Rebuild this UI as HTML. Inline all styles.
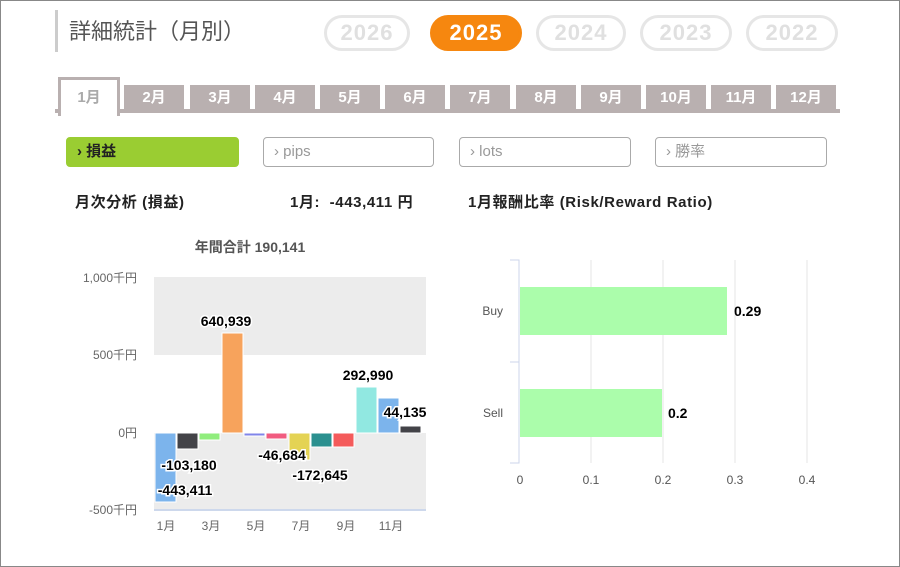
<!DOCTYPE html>
<html><head><meta charset="utf-8"><style>
body{margin:0;width:900px;height:567px;background:#fff;font-family:"Liberation Sans","Noto Sans CJK JP",sans-serif;position:relative;overflow:hidden}
.a{position:absolute}
.frame{left:0;top:0;width:898px;height:565px;border:1px solid #888}
.pill{top:15px;height:30px;border:3px solid #e6e6e6;border-radius:18px;color:#e0e0e0;font-weight:bold;font-size:22px;letter-spacing:1px;text-align:center;line-height:30px}
.tab{top:85px;height:25px;background:#b9b0b0;color:#fff;font-size:15px;font-weight:bold;text-align:center;line-height:26px;width:60px}
.btn{top:137px;border:1px solid #aaa;border-radius:4px;color:#999;font-size:15px;line-height:28px;padding-left:10px;box-sizing:border-box;height:30px}
.b{font-weight:bold;font-size:15px;color:#222;letter-spacing:0.6px}
</style></head><body>
<div class="a frame"></div>
<div class="a" style="left:55px;top:10px;width:3px;height:42px;background:#ccc"></div>
<div class="a" style="left:69px;top:14px;font-size:22px;color:#555">詳細統計（月別）</div>
<div class="a pill" style="left:324px;width:80px">2026</div>
<div class="a pill" style="left:430px;width:86px;background:#f6870f;border-color:#f6870f;color:#fff">2025</div>
<div class="a pill" style="left:536px;width:84px">2024</div>
<div class="a pill" style="left:640px;width:86px">2023</div>
<div class="a pill" style="left:746px;width:86px">2022</div>
<div class="a" style="left:55px;top:109px;width:785px;height:4px;background:#b9b0b0"></div>
<div class="a" style="left:58px;top:77px;width:56px;height:36px;background:#fff;border:3px solid #b9b0b0;border-bottom:none;color:#aaa;font-size:15px;font-weight:bold;text-align:center;line-height:36px">1月</div>
<div class="a tab" style="left:124px">2月</div>
<div class="a tab" style="left:190px">3月</div>
<div class="a tab" style="left:255px">4月</div>
<div class="a tab" style="left:320px">5月</div>
<div class="a tab" style="left:385px">6月</div>
<div class="a tab" style="left:450px">7月</div>
<div class="a tab" style="left:516px">8月</div>
<div class="a tab" style="left:581px">9月</div>
<div class="a tab" style="left:646px">10月</div>
<div class="a tab" style="left:711px">11月</div>
<div class="a tab" style="left:776px">12月</div>
<div class="a btn" style="left:66px;width:173px;background:#9acd32;border-color:#9acd32;color:#222;font-weight:bold">›&nbsp;損益</div>
<div class="a btn" style="left:263px;width:171px">›&nbsp;pips</div>
<div class="a btn" style="left:459px;width:172px">›&nbsp;lots</div>
<div class="a btn" style="left:655px;width:172px">›&nbsp;勝率</div>
<div class="a b" style="left:75px;top:191px">月次分析 (損益)</div>
<div class="a b" style="left:290px;top:191px">1月:&nbsp; -443,411 円</div>
<div class="a b" style="left:468px;top:191px">1月報酬比率 (Risk/Reward Ratio)</div>
<svg class="a" style="left:0;top:0" width="900" height="567" font-family="Liberation Sans,Noto Sans CJK JP,sans-serif">
<text x="250" y="252" text-anchor="middle" font-size="14" font-weight="bold" fill="#555">年間合計 190,141</text>
<rect x="154" y="277" width="272" height="78" fill="#ececec"/>
<rect x="154" y="433" width="272" height="77" fill="#ececec"/>
<line x1="154" y1="510" x2="426" y2="510" stroke="#cdd8ec" stroke-width="2"/>
<g font-size="12" fill="#666" text-anchor="end">
<text x="137" y="282">1,000千円</text><text x="137" y="359">500千円</text><text x="137" y="437">0円</text><text x="137" y="514">-500千円</text></g>
<g font-size="12" fill="#666" text-anchor="middle">
<text x="166" y="530">1月</text><text x="211" y="530">3月</text><text x="256" y="530">5月</text><text x="301" y="530">7月</text><text x="346" y="530">9月</text><text x="391" y="530">11月</text></g>
<g stroke="#fff" stroke-width="1">
<rect x="155" y="433" width="21" height="69" fill="#7cb4ec"/>
<rect x="177" y="433" width="21" height="16" fill="#434348"/>
<rect x="199" y="433" width="21" height="7" fill="#90ed7d"/>
<rect x="222" y="333" width="21" height="100" fill="#f7a35c"/>
<rect x="244" y="433" width="21" height="3" fill="#8085e9"/>
<rect x="266" y="433" width="21" height="6" fill="#f15c80"/>
<rect x="289" y="433" width="21" height="27" fill="#e4d354"/>
<rect x="311" y="433" width="21" height="14" fill="#2b908f"/>
<rect x="333" y="433" width="21" height="14" fill="#f45b5b"/>
<rect x="356" y="387" width="21" height="46" fill="#91e8e1"/>
<rect x="378" y="398" width="21" height="35" fill="#7cb4ec"/>
<rect x="400" y="426" width="21" height="7" fill="#434348"/></g>
<g font-size="14" font-weight="bold" fill="#000" stroke="#fff" stroke-width="3" paint-order="stroke" text-anchor="middle">
<text x="226" y="326">640,939</text><text x="368" y="380">292,990</text><text x="405" y="417">44,135</text>
<text x="189" y="470">-103,180</text><text x="185" y="495">-443,411</text>
<text x="282" y="460">-46,684</text><text x="320" y="480">-172,645</text></g>
<g stroke="#e6e6e6"><line x1="591" y1="260" x2="591" y2="463"/><line x1="663" y1="260" x2="663" y2="463"/><line x1="735" y1="260" x2="735" y2="463"/><line x1="807" y1="260" x2="807" y2="463"/></g>
<rect x="520" y="287" width="207" height="48" fill="#abfdab"/>
<rect x="520" y="389" width="142" height="48" fill="#abfdab"/>
<path d="M510 260H519V463H510M510 362H519" fill="none" stroke="#ccd6eb"/>
<g font-size="12" fill="#555" text-anchor="end"><text x="503" y="315">Buy</text><text x="503" y="417">Sell</text></g>
<g font-size="14" font-weight="bold" fill="#000"><text x="734" y="316">0.29</text><text x="668" y="418">0.2</text></g>
<g font-size="12" fill="#555" text-anchor="middle"><text x="520" y="484">0</text><text x="591" y="484">0.1</text><text x="663" y="484">0.2</text><text x="735" y="484">0.3</text><text x="807" y="484">0.4</text></g>
</svg>
</body></html>
